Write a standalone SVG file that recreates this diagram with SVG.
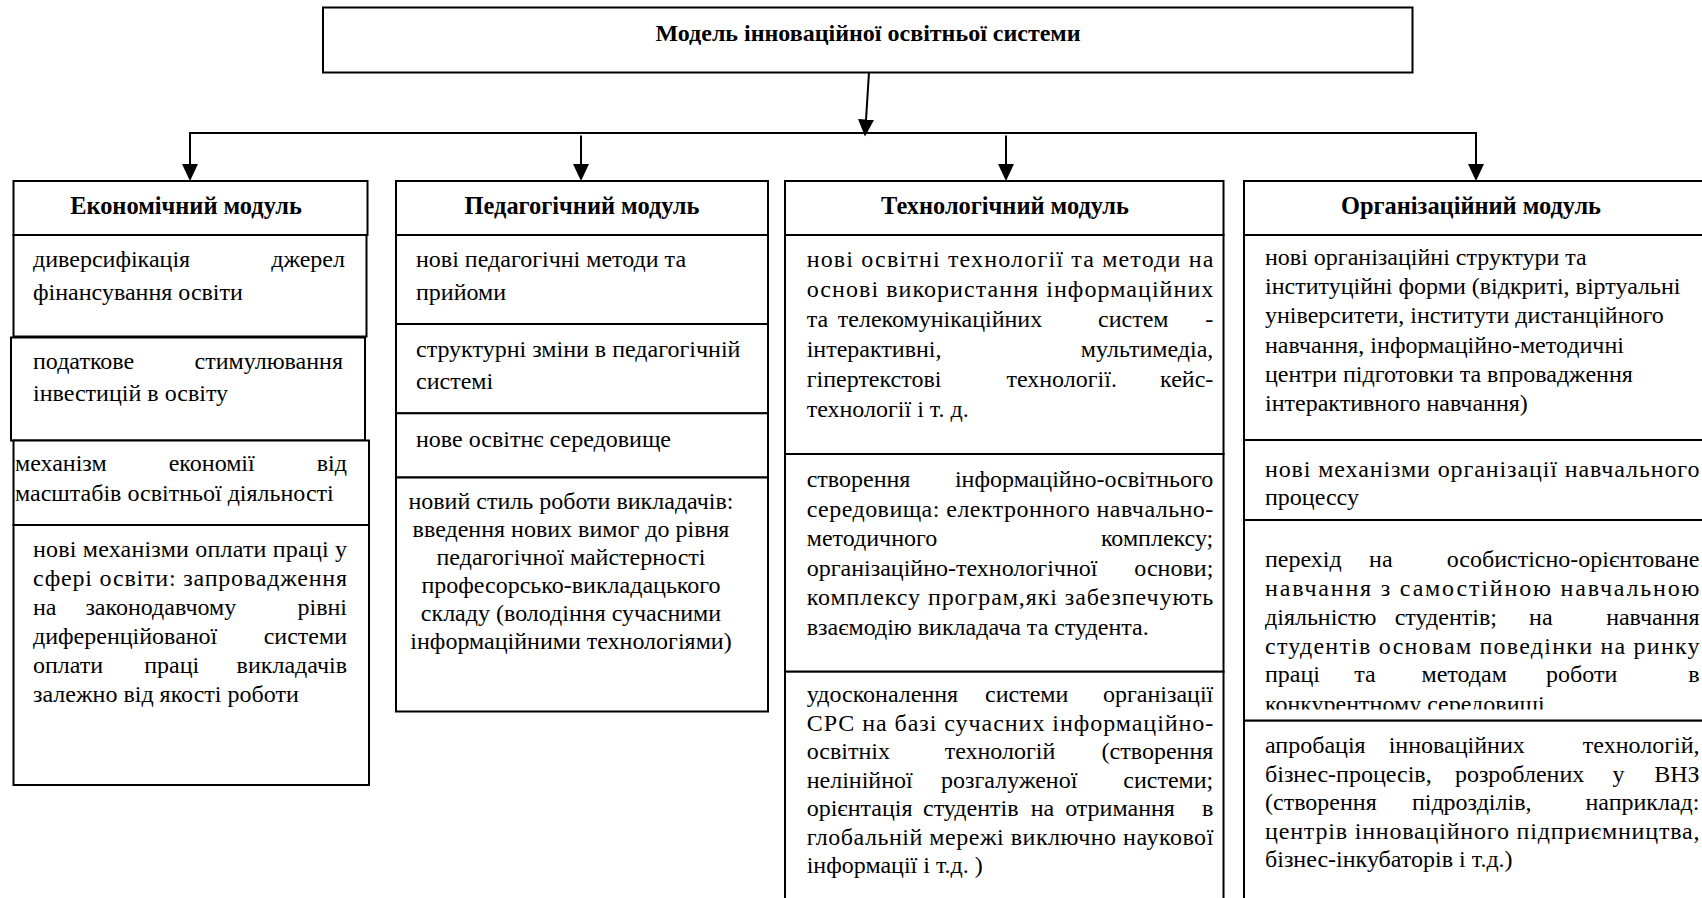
<svg xmlns="http://www.w3.org/2000/svg" width="1702" height="898" viewBox="0 0 1702 898">
<style>
.bx{fill:#fff;stroke:#000;stroke-width:2}
.t{font-family:"Liberation Serif","Times New Roman",serif;font-size:24px;fill:#000}
.h{font-family:"Liberation Serif","Times New Roman",serif;font-size:24.4px;font-weight:bold;fill:#000;text-anchor:middle}
.ttl{font-size:24px}
.e{text-anchor:end}
.m{text-anchor:middle}
.cn{stroke:#000;stroke-width:2;fill:none}
</style>
<defs>
<marker id="ah" markerWidth="17" markerHeight="16" refX="15" refY="8" orient="auto" markerUnits="userSpaceOnUse" viewBox="0 0 17 16"><path d="M0,0 L17,8 L0,16 z" fill="#000"/></marker>
<clipPath id="clipOrg3"><rect x="1240" y="520" width="470" height="189.5"/></clipPath>
</defs>
<rect width="1702" height="898" fill="#fff"/>

<g id="title">
<rect class="bx" x="323" y="7.5" width="1089.5" height="65"/>
<text class="h ttl" x="868" y="41">Модель інноваційної освітньої системи</text>
</g>

<g id="connectors">
<line class="cn" x1="869" y1="72.5" x2="865.1" y2="134.5" marker-end="url(#ah)"/>
<line class="cn" x1="189" y1="133" x2="1477" y2="133"/>
<line class="cn" x1="190" y1="133" x2="190" y2="179" marker-end="url(#ah)"/>
<line class="cn" x1="581" y1="135.5" x2="581" y2="179" marker-end="url(#ah)"/>
<line class="cn" x1="1006" y1="135.5" x2="1006" y2="179" marker-end="url(#ah)"/>
<line class="cn" x1="1476" y1="133" x2="1476" y2="179" marker-end="url(#ah)"/>
</g>

<g id="economic">
<rect class="bx" x="13.5" y="181" width="354" height="54"/>
<text class="h" x="186" y="214">Економічний модуль</text>
<rect class="bx" x="13.5" y="235" width="353" height="101.5"/>
<text class="t" x="33" y="267">диверсифікація</text><text class="t e" x="345" y="267">джерел</text>
<text class="t" x="33" y="300">фінансування освіти</text>
<rect class="bx" x="11" y="337.5" width="354" height="103"/>
<text class="t" x="33" y="369">податкове</text><text class="t e" x="343" y="369">стимулювання</text>
<text class="t" x="33" y="401">інвестицій в освіту</text>
<rect class="bx" x="13.5" y="440.5" width="355.5" height="84.5"/>
<text class="t" x="15" y="471">механізм</text><text class="t m" x="211.7" y="471">економії</text><text class="t e" x="347" y="471">від</text>
<text class="t" x="15" y="501">масштабів освітньої діяльності</text>
<rect class="bx" x="13.5" y="525" width="355.5" height="260"/>
<text class="t" x="33" y="557" textLength="314" lengthAdjust="spacing">нові механізми оплати праці у</text>
<text class="t" x="33" y="586" textLength="314" lengthAdjust="spacing">сфері освіти: запровадження</text>
<text class="t" x="33" y="615">на</text><text class="t m" x="160.8" y="615">законодавчому</text><text class="t e" x="347" y="615">рівні</text>
<text class="t" x="33" y="644">диференційованої</text><text class="t e" x="347" y="644">системи</text>
<text class="t" x="33" y="673">оплати</text><text class="t m" x="171.7" y="673">праці</text><text class="t e" x="347" y="673">викладачів</text>
<text class="t" x="33" y="702">залежно від якості роботи</text>
</g>

<g id="pedagogical">
<rect class="bx" x="396" y="181" width="372" height="54"/>
<text class="h" x="582" y="214">Педагогічний модуль</text>
<rect class="bx" x="396" y="235" width="372" height="89"/>
<text class="t" x="416" y="267">нові педагогічні методи та</text>
<text class="t" x="416" y="300">прийоми</text>
<rect class="bx" x="396" y="324" width="372" height="89.3"/>
<text class="t" x="416" y="357">структурні зміни в педагогічній</text>
<text class="t" x="416" y="388.5">системі</text>
<rect class="bx" x="396" y="413.3" width="372" height="64.2"/>
<text class="t" x="416" y="447">нове освітнє середовище</text>
<rect class="bx" x="396" y="477.5" width="372" height="234"/>
<text class="t m" x="571" y="509">новий стиль роботи викладачів:</text>
<text class="t m" x="571" y="537">введення нових вимог до рівня</text>
<text class="t m" x="571" y="565">педагогічної майстерності</text>
<text class="t m" x="571" y="593">професорсько-викладацького</text>
<text class="t m" x="571" y="621">складу (володіння сучасними</text>
<text class="t m" x="571" y="649">інформаційними технологіями)</text>
</g>

<g id="technological">
<rect class="bx" x="785" y="181" width="438.5" height="54"/>
<text class="h" x="1005" y="214">Технологічний модуль</text>
<rect class="bx" x="785" y="235" width="438.5" height="219"/>
<text class="t" x="806.7" y="267" textLength="406.6" lengthAdjust="spacing">нові освітні технології та методи на</text>
<text class="t" x="806.7" y="297" textLength="406.6" lengthAdjust="spacing">основі використання інформаційних</text>
<text class="t" x="806.7" y="327">та</text><text class="t m" x="940" y="327">телекомунікаційних</text><text class="t m" x="1133.3" y="327">систем</text><text class="t e" x="1213.3" y="327">-</text>
<text class="t" x="806.7" y="357">інтерактивні,</text><text class="t e" x="1213.3" y="357">мультимедіа,</text>
<text class="t" x="806.7" y="387">гіпертекстові</text><text class="t m" x="1061.7" y="387">технології.</text><text class="t e" x="1213.3" y="387">кейс-</text>
<text class="t" x="806.7" y="417">технології і т. д.</text>
<rect class="bx" x="785" y="454" width="438.5" height="217.7"/>
<text class="t" x="806.7" y="487">створення</text><text class="t e" x="1213.3" y="487">інформаційно-освітнього</text>
<text class="t" x="806.7" y="516.5" textLength="406.6" lengthAdjust="spacing">середовища: електронного навчально-</text>
<text class="t" x="806.7" y="546">методичного</text><text class="t e" x="1213.3" y="546">комплексу;</text>
<text class="t" x="806.7" y="575.5">організаційно-технологічної</text><text class="t e" x="1213.3" y="575.5">основи;</text>
<text class="t" x="806.7" y="605" textLength="406.6" lengthAdjust="spacing">комплексу програм,які забезпечують</text>
<text class="t" x="806.7" y="634.5">взаємодію викладача та студента.</text>
<rect class="bx" x="785" y="671.7" width="438.5" height="240"/>
<text class="t" x="806.7" y="702">удосконалення</text><text class="t m" x="1026.7" y="702">системи</text><text class="t e" x="1213.3" y="702">організації</text>
<text class="t" x="806.7" y="730.5" textLength="406.6" lengthAdjust="spacing">СРС на базі сучасних інформаційно-</text>
<text class="t" x="806.7" y="759">освітніх</text><text class="t m" x="1000" y="759">технологій</text><text class="t e" x="1213.3" y="759">(створення</text>
<text class="t" x="806.7" y="787.5">нелінійної</text><text class="t m" x="1009.2" y="787.5">розгалуженої</text><text class="t e" x="1213.3" y="787.5">системи;</text>
<text class="t" x="806.7" y="816">орієнтація</text><text class="t m" x="970.8" y="816">студентів</text><text class="t m" x="1042.5" y="816">на</text><text class="t m" x="1120" y="816">отримання</text><text class="t e" x="1213.3" y="816">в</text>
<text class="t" x="806.7" y="844.5" textLength="406.6" lengthAdjust="spacing">глобальній мережі виключно наукової</text>
<text class="t" x="806.7" y="873">інформації і т.д. )</text>
</g>

<g id="organizational">
<rect class="bx" x="1244" y="181" width="470" height="54"/>
<text class="h" x="1471" y="214">Організаційний модуль</text>
<rect class="bx" x="1244" y="235" width="470" height="205"/>
<text class="t" x="1265" y="265">нові організаційні структури та</text>
<text class="t" x="1265" y="294">інституційні форми (відкриті, віртуальні</text>
<text class="t" x="1265" y="323.3">університети, інститути дистанційного</text>
<text class="t" x="1265" y="352.7">навчання, інформаційно-методичні</text>
<text class="t" x="1265" y="381.7">центри підготовки та впровадження</text>
<text class="t" x="1265" y="410.7">інтерактивного навчання)</text>
<rect class="bx" x="1244" y="440" width="470" height="80"/>
<text class="t" x="1265" y="477" textLength="434.5" lengthAdjust="spacing">нові механізми організації навчального</text>
<text class="t" x="1265" y="505">процессу</text>
<rect class="bx" x="1244" y="520" width="470" height="200.7"/>
<text class="t" x="1265" y="567">перехід</text><text class="t m" x="1380.8" y="567">на</text><text class="t e" x="1699.5" y="567">особистісно-орієнтоване</text>
<text class="t" x="1265" y="596" textLength="434.5" lengthAdjust="spacing">навчання з самостійною навчальною</text>
<text class="t" x="1265" y="625">діяльністю</text><text class="t m" x="1445.8" y="625">студентів;</text><text class="t m" x="1540.8" y="625">на</text><text class="t e" x="1699.5" y="625">навчання</text>
<text class="t" x="1265" y="653.5" textLength="434.5" lengthAdjust="spacing">студентів основам поведінки на ринку</text>
<text class="t" x="1265" y="682">праці</text><text class="t m" x="1365" y="682">та</text><text class="t m" x="1464.2" y="682">методам</text><text class="t m" x="1581.7" y="682">роботи</text><text class="t e" x="1699.5" y="682">в</text>
<text class="t" x="1265" y="711.5" clip-path="url(#clipOrg3)">конкурентному середовищі</text>
<rect class="bx" x="1244" y="720.7" width="470" height="190"/>
<text class="t" x="1265" y="753">апробація</text><text class="t m" x="1456.7" y="753">інноваційних</text><text class="t e" x="1699.5" y="753">технологій,</text>
<text class="t" x="1265" y="781.5">бізнес-процесів,</text><text class="t m" x="1519.6" y="781.5">розроблених</text><text class="t m" x="1618.4" y="781.5">у</text><text class="t e" x="1699.5" y="781.5">ВНЗ</text>
<text class="t" x="1265" y="810">(створення</text><text class="t m" x="1471.7" y="810">підрозділів,</text><text class="t e" x="1699.5" y="810">наприклад:</text>
<text class="t" x="1265" y="838.5" textLength="434.5" lengthAdjust="spacing">центрів інноваційного підприємництва,</text>
<text class="t" x="1265" y="867">бізнес-інкубаторів і т.д.)</text>
</g>
</svg>
